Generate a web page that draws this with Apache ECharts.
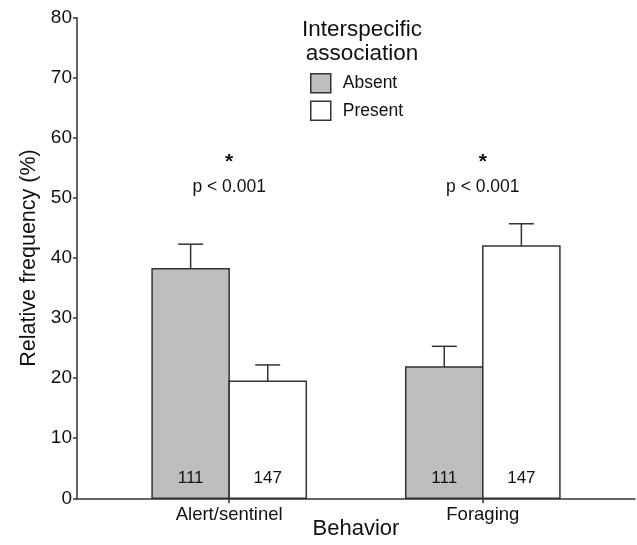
<!DOCTYPE html>
<html><head><meta charset="utf-8">
<script src="https://cdn.jsdelivr.net/npm/echarts@6/dist/echarts.min.js"></script>
<style>html,body{margin:0;padding:0;background:#fff}#c{width:637px;height:545px}</style>
</head><body><div id="c"></div>
<script>
var categories = ['Alert/sentinel', 'Foraging'];
var absentMeans = [38.2, 21.85];
var absentErrTop = [42.3, 25.3];
var absentN = ['111', '111'];
var presentMeans = [19.5, 42.0];
var presentErrTop = [22.2, 45.7];
var presentN = ['147', '147'];
var sigStars = ['*', '*'];
var sigText = ['p < 0.001', 'p < 0.001'];
var yTicks = [0, 10, 20, 30, 40, 50, 60, 70, 80];

var FONT = 'Liberation Sans, Arial, sans-serif';
var INK = '#333333';
var BAR_W = 0.304;

function makeData(means, errs) {
  return categories.map(function (c, i) { return [i, means[i], errs[i]]; });
}

function barRenderer(side, fill, ns) {
  return function (params, api) {
    var ci = api.value(0), v = api.value(1), e = api.value(2);
    var n = ns[params.dataIndex];
    var x0 = side < 0 ? ci - BAR_W : ci;
    var x1 = side < 0 ? ci : ci + BAR_W;
    var pTL = api.coord([x0, v]);
    var pBR = api.coord([x1, 0]);
    var cx = (pTL[0] + pBR[0]) / 2;
    var pE = api.coord([ci, e]);
    var capHalf = 12.5;
    return {
      type: 'group',
      children: [
        { type: 'rect', shape: { x: pTL[0], y: pTL[1], width: pBR[0] - pTL[0], height: pBR[1] - pTL[1] },
          style: { fill: fill, stroke: INK, lineWidth: 1.5 } },
        { type: 'line', shape: { x1: cx, y1: pTL[1], x2: cx, y2: pE[1] }, style: { stroke: INK, lineWidth: 1.5 } },
        { type: 'line', shape: { x1: cx - capHalf, y1: pE[1], x2: cx + capHalf, y2: pE[1] }, style: { stroke: INK, lineWidth: 1.5 } },
        { type: 'text', x: cx, y: pBR[1] - 20,
          style: { text: n, fill: '#111', font: '17px ' + FONT, align: 'center', verticalAlign: 'middle' } }
      ]
    };
  };
}

var chart = echarts.init(document.getElementById('c'), null, { renderer: 'canvas' });
chart.setOption({
  animation: false,
  backgroundColor: '#fff',
  title: {
    text: 'Interspecific\nassociation',
    left: 357, top: 13, textAlign: 'center',
    textStyle: { fontFamily: FONT, fontSize: 22.5, fontWeight: 'normal', color: '#111', lineHeight: 24 }
  },
  legend: {
    orient: 'vertical', left: 310, top: 73, padding: 0, itemWidth: 20, itemHeight: 19, itemGap: 7,
    textStyle: { fontFamily: FONT, fontSize: 17.5, color: '#111', padding: [0, 0, 0, 7] },
    data: [
      { name: 'Absent', icon: 'rect', itemStyle: { color: '#bebebe', borderColor: INK, borderWidth: 1.5 } },
      { name: 'Present', icon: 'rect', itemStyle: { color: '#ffffff', borderColor: INK, borderWidth: 1.5 } }
    ]
  },
  grid: { left: 77, right: 2, top: 17.7, bottom: 46.7, containLabel: false, outerBoundsMode: 'none' },
  xAxis: {
    type: 'value', min: -0.6, max: 1.6,
    name: 'Behavior', nameLocation: 'middle', nameGap: 20, nameMoveOverlap: false,
    nameTextStyle: { fontFamily: FONT, fontSize: 22, color: '#111' },
    axisLine: { show: true, onZero: false, lineStyle: { color: INK, width: 1.5 } },
    axisTick: { show: true, length: 5, customValues: [0, 1], lineStyle: { color: INK, width: 1.5 } },
    axisLabel: { customValues: [0, 1], fontFamily: FONT, fontSize: 18.5, color: '#111', margin: 7,
      formatter: function (v) { return categories[Math.round(v)]; } },
    splitLine: { show: false }
  },
  yAxis: {
    type: 'value', min: 0, max: 80, interval: 10,
    name: 'Relative frequency (%)', nameLocation: 'middle', nameGap: 37, nameRotate: 90, nameMoveOverlap: false,
    nameTextStyle: { fontFamily: FONT, fontSize: 21.5, color: '#111' },
    axisLine: { show: true, onZero: false, lineStyle: { color: INK, width: 1.5 } },
    axisTick: { show: true, length: 4, lineStyle: { color: INK, width: 1.5 } },
    axisLabel: { fontFamily: FONT, fontSize: 19, color: '#111', margin: 5,
      formatter: function (v) { return yTicks.indexOf(v) >= 0 ? String(v) : ''; } },
    splitLine: { show: false }
  },
  series: [
    { name: 'Absent', type: 'custom', renderItem: barRenderer(-1, '#bebebe', absentN),
      itemStyle: { color: '#bebebe' }, encode: { x: 0, y: [1, 2] },
      data: makeData(absentMeans, absentErrTop) },
    { name: 'Present', type: 'custom', renderItem: barRenderer(1, '#ffffff', presentN),
      itemStyle: { color: '#ffffff' }, encode: { x: 0, y: [1, 2] },
      data: makeData(presentMeans, presentErrTop) },
    { name: 'sig', type: 'custom', encode: { x: 0, y: 1 },
      data: categories.map(function (c, i) { return [i, 80]; }),
      renderItem: function (params, api) {
        var ci = api.value(0);
        var p = api.coord([ci, 80]);
        var i = params.dataIndex;
        return { type: 'group', children: [
          { type: 'text', x: p[0], y: p[1] + 145,
            style: { text: sigStars[i], font: 'bold 21px ' + FONT, fill: '#111', align: 'center', verticalAlign: 'middle' } },
          { type: 'text', x: p[0], y: p[1] + 169,
            style: { text: sigText[i], font: '17.5px ' + FONT, fill: '#111', align: 'center', verticalAlign: 'middle' } }
        ] };
      } }
  ]
});
</script></body></html>
